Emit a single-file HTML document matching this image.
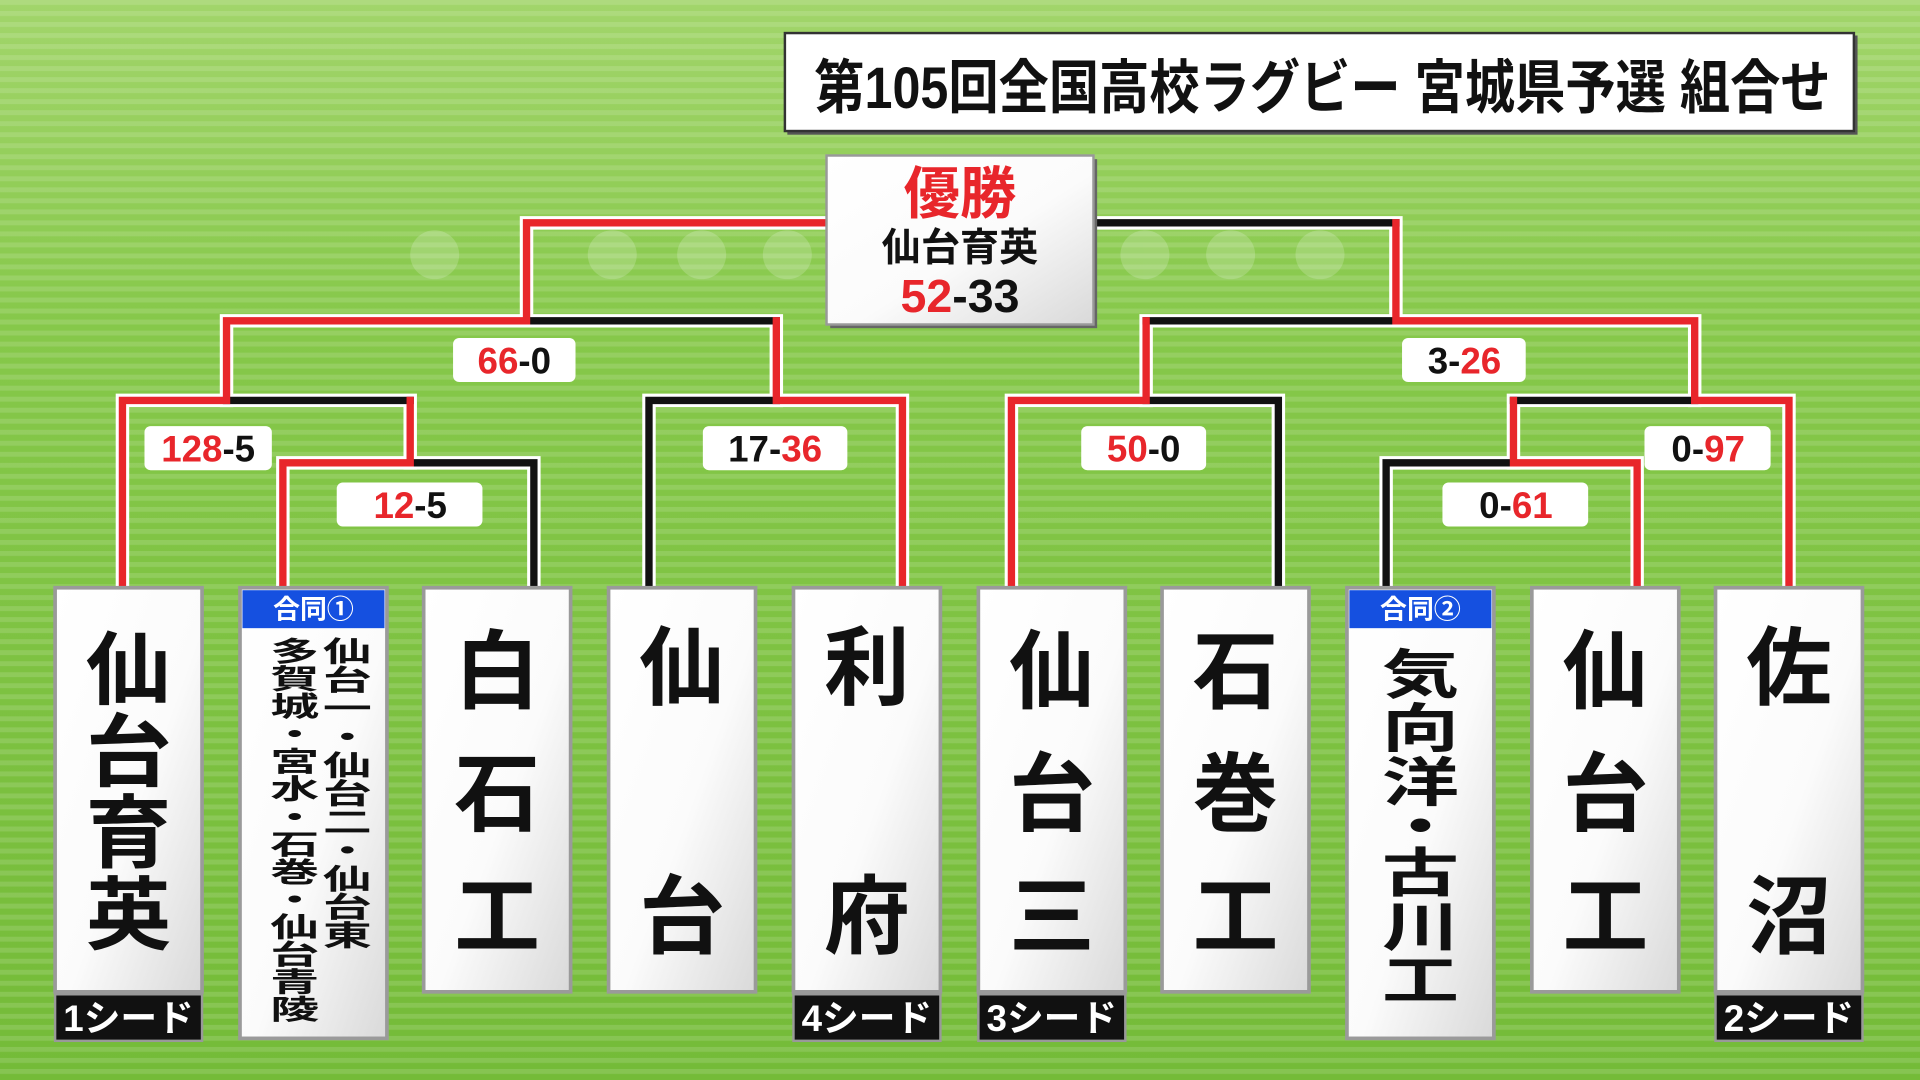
<!DOCTYPE html>
<html><head><meta charset="utf-8"><style>
html,body{margin:0;padding:0;width:1920px;height:1080px;overflow:hidden;}
svg{display:block}
text{font-family:"Liberation Sans","Noto Sans CJK JP",sans-serif;font-weight:bold}
</style></head><body>
<svg width="1920" height="1080" viewBox="0 0 1568 882" xmlns="http://www.w3.org/2000/svg">
<defs>
<linearGradient id="bg" x1="0" y1="0" x2="0" y2="1">
<stop offset="0" stop-color="#a2d56b"/><stop offset="0.3" stop-color="#86c84a"/><stop offset="1" stop-color="#74bb38"/>
</linearGradient>
<pattern id="st" width="10" height="9" patternUnits="userSpaceOnUse"><rect width="10" height="4" fill="#ffffff" opacity="0.13"/></pattern>
<linearGradient id="box" x1="0" y1="0" x2="1" y2="1">
<stop offset="0" stop-color="#ffffff"/><stop offset="0.55" stop-color="#fbfbfb"/><stop offset="1" stop-color="#d9d9d9"/>
</linearGradient>
</defs>
<rect width="1568" height="882" fill="url(#bg)"/>
<rect width="1568" height="882" fill="url(#st)"/>
<g fill="#ffffff" opacity="0.18">
<circle cx="355" cy="208" r="20"/><circle cx="500" cy="208" r="20"/><circle cx="573" cy="208" r="20"/><circle cx="643" cy="208" r="20"/><circle cx="935" cy="208" r="20"/><circle cx="1005" cy="208" r="20"/><circle cx="1078" cy="208" r="20"/>
</g>

<!-- title -->
<rect x="643" y="29" width="874" height="81" fill="#555"/>
<rect x="641" y="27" width="873" height="80" fill="#fff" stroke="#333" stroke-width="2"/>
<text x="665" y="88" font-size="48" textLength="830" lengthAdjust="spacingAndGlyphs" fill="#111" font-weight="normal">第105回全国高校ラグビー 宮城県予選 組合せ</text>

<!-- bracket lines -->
<g fill="none" stroke-linecap="square" stroke-linejoin="miter">
<g stroke="#fff" stroke-width="11">
<polyline points="100,479 100,327 185,327 185,262 430,262 430,182 675,182"/>
<polyline points="185,327 335,327 335,378"/>
<polyline points="231,479 231,378 436,378 436,479"/>
<polyline points="430,262 634,262 634,327"/>
<polyline points="530,479 530,327 737,327 737,479"/>
<polyline points="893,182 1140,182 1140,262"/>
<polyline points="936,327 936,262 1384,262 1384,327"/>
<polyline points="826,479 826,327 1044,327 1044,479"/>
<polyline points="1236,378 1236,327 1461,327 1461,479"/>
<polyline points="1132,479 1132,378 1337,378 1337,479"/>
</g>
<g stroke-width="6">
<polyline stroke="#111" points="185,327 335,327"/>
<polyline stroke="#111" points="335,378 436,378 436,479"/>
<polyline stroke="#111" points="430,262 634,262"/>
<polyline stroke="#111" points="530,479 530,327 634,327"/>
<polyline stroke="#111" points="893,182 1140,182"/>
<polyline stroke="#111" points="936,262 1140,262"/>
<polyline stroke="#111" points="936,327 1044,327 1044,479"/>
<polyline stroke="#111" points="1236,327 1384,327"/>
<polyline stroke="#111" points="1132,479 1132,378 1236,378"/>
<polyline stroke="#e8262b" points="100,479 100,327 185,327 185,262 430,262 430,182 675,182"/>
<polyline stroke="#e8262b" points="231,479 231,378 335,378 335,327"/>
<polyline stroke="#e8262b" points="634,262 634,327 737,327 737,479"/>
<polyline stroke="#e8262b" points="1140,182 1140,262 1384,262 1384,327 1461,327 1461,479"/>
<polyline stroke="#e8262b" points="826,479 826,327 936,327 936,262"/>
<polyline stroke="#e8262b" points="1236,327 1236,378 1337,378 1337,479"/>
</g>
</g>

<!-- champion -->
<rect x="678" y="130" width="218" height="138" fill="#666"/>
<rect x="675" y="127" width="218" height="138" fill="url(#box)" stroke="#999" stroke-width="2"/>
<text x="784" y="174" font-size="46" fill="#e8262b" text-anchor="middle">優勝</text>
<text x="784" y="213" font-size="32" fill="#111" text-anchor="middle">仙台育英</text>
<text x="784" y="255" font-size="38" text-anchor="middle"><tspan fill="#e8262b">52</tspan><tspan fill="#111">-33</tspan></text>

<!-- scores -->
<g font-size="30" text-anchor="middle">
<rect x="370" y="276" width="100" height="36" rx="5" fill="#fff"/><text x="420" y="305"><tspan fill="#e8262b">66</tspan><tspan fill="#111">-0</tspan></text>
<rect x="118" y="348" width="104" height="36" rx="5" fill="#fff"/><text x="170" y="377"><tspan fill="#e8262b">128</tspan><tspan fill="#111">-5</tspan></text>
<rect x="275" y="394" width="119" height="36" rx="5" fill="#fff"/><text x="335" y="423"><tspan fill="#e8262b">12</tspan><tspan fill="#111">-5</tspan></text>
<rect x="574" y="348" width="118" height="36" rx="5" fill="#fff"/><text x="633" y="377"><tspan fill="#111">17-</tspan><tspan fill="#e8262b">36</tspan></text>
<rect x="883" y="348" width="102" height="36" rx="5" fill="#fff"/><text x="934" y="377"><tspan fill="#e8262b">50</tspan><tspan fill="#111">-0</tspan></text>
<rect x="1145" y="276" width="101" height="36" rx="5" fill="#fff"/><text x="1196" y="305"><tspan fill="#111">3-</tspan><tspan fill="#e8262b">26</tspan></text>
<rect x="1343" y="348" width="103" height="36" rx="5" fill="#fff"/><text x="1395" y="377"><tspan fill="#111">0-</tspan><tspan fill="#e8262b">97</tspan></text>
<rect x="1178" y="394" width="119" height="36" rx="5" fill="#fff"/><text x="1238" y="423"><tspan fill="#111">0-</tspan><tspan fill="#e8262b">61</tspan></text>
</g>

<!-- team boxes -->
<g stroke="#9a9a9a" stroke-width="3">
<rect x="45" y="480" width="120" height="330" fill="url(#box)"/>
<rect x="196" y="480" width="120" height="368" fill="url(#box)"/>
<rect x="346" y="480" width="120" height="330" fill="url(#box)"/>
<rect x="497" y="480" width="120" height="330" fill="url(#box)"/>
<rect x="648" y="480" width="120" height="330" fill="url(#box)"/>
<rect x="799" y="480" width="120" height="330" fill="url(#box)"/>
<rect x="949" y="480" width="120" height="330" fill="url(#box)"/>
<rect x="1100" y="480" width="120" height="368" fill="url(#box)"/>
<rect x="1251" y="480" width="120" height="330" fill="url(#box)"/>
<rect x="1401" y="480" width="120" height="330" fill="url(#box)"/>
</g>
<rect x="198" y="482" width="116" height="31" fill="#1550e0"/>
<rect x="1102" y="482" width="116" height="31" fill="#1550e0"/>
<text x="256" y="505" font-size="22" fill="#fff" text-anchor="middle">合同①</text>
<text x="1160" y="505" font-size="22" fill="#fff" text-anchor="middle">合同②</text>

<g font-size="70" fill="#111" text-anchor="middle">
<text transform="translate(105,570) scale(1,0.93)">仙</text><text transform="translate(105,637) scale(1,0.93)">台</text><text transform="translate(105,703) scale(1,0.93)">育</text><text transform="translate(105,770) scale(1,0.93)">英</text>
<text x="406" y="573">白</text><text x="406" y="673">石</text><text x="406" y="773">工</text>
<text x="557" y="570">仙</text><text x="557" y="773">台</text>
<text x="708" y="570">利</text><text x="708" y="773">府</text>
<text x="859" y="573">仙</text><text x="859" y="673">台</text><text x="859" y="773">三</text>
<text x="1009" y="573">石</text><text x="1009" y="673">巻</text><text x="1009" y="773">工</text>
<text x="1311" y="573">仙</text><text x="1311" y="673">台</text><text x="1311" y="773">工</text>
<text x="1461" y="570">佐</text><text x="1461" y="773">沼</text>
</g>
<g font-size="60" fill="#111" text-anchor="middle">
<text transform="translate(1160,566) scale(1.05,0.72)">気</text>
<text transform="translate(1160,610) scale(1.05,0.72)">向</text>
<text transform="translate(1160,654) scale(1.05,0.72)">洋</text>
<text transform="translate(1160,690) scale(1.05,0.72)">・</text>
<text transform="translate(1160,728) scale(1.05,0.72)">古</text>
<text transform="translate(1160,772) scale(1.05,0.72)">川</text>
<text transform="translate(1160,816) scale(1.05,0.72)">工</text>
</g>
<g font-size="40" fill="#111">
<text x="280" y="520" style="writing-mode:vertical-rl" textLength="255" lengthAdjust="spacingAndGlyphs">仙台一・仙台二・仙台東</text>
<text x="237" y="520" style="writing-mode:vertical-rl" textLength="315" lengthAdjust="spacingAndGlyphs">多賀城・宮水・石巻・仙台青陵</text>
</g>

<!-- seeds -->
<g>
<rect x="45" y="812" width="120" height="38" fill="#111" stroke="#999" stroke-width="2"/>
<rect x="648" y="812" width="120" height="38" fill="#111" stroke="#999" stroke-width="2"/>
<rect x="799" y="812" width="120" height="38" fill="#111" stroke="#999" stroke-width="2"/>
<rect x="1401" y="812" width="120" height="38" fill="#111" stroke="#999" stroke-width="2"/>
</g>
<g font-size="30" fill="#fff" text-anchor="middle">
<text x="105" y="842">1シード</text><text x="708" y="842">4シード</text><text x="859" y="842">3シード</text><text x="1461" y="842">2シード</text>
</g>
</svg>
</body></html>
